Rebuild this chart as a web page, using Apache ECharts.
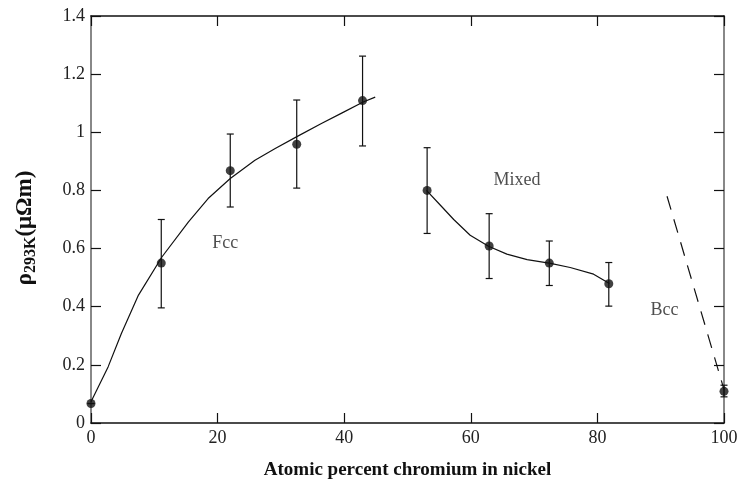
<!DOCTYPE html>
<html>
<head>
<meta charset="utf-8">
<script src="https://cdn.jsdelivr.net/npm/echarts@6/dist/echarts.min.js"></script>
<style>
  html, body { margin: 0; padding: 0; background: #fff; }
  #chart { width: 741px; height: 489px; }
</style>
</head>
<body>
<div id="chart"></div>
<script>
// measured points (atomic % Cr, resistivity)
var pointX = [0, 11.1, 22, 32.5, 42.9, 53.1, 62.9, 72.4, 81.8, 100];
var pointY = [0.067, 0.55, 0.868, 0.959, 1.109, 0.80, 0.609, 0.55, 0.479, 0.109];
var errLow = [0.067, 0.396, 0.743, 0.808, 0.953, 0.652, 0.497, 0.473, 0.402, 0.09];
var errHigh = [0.067, 0.70, 0.994, 1.111, 1.262, 0.947, 0.72, 0.626, 0.552, 0.13];

// fitted curves
var fccX = [0, 2.7, 4.8, 7.5, 11.2, 15.4, 18.5, 22, 25.9, 29.1, 32.6, 36.4, 39.6, 43, 44.9];
var fccY = [0.073, 0.193, 0.308, 0.44, 0.571, 0.692, 0.772, 0.841, 0.904, 0.944, 0.986, 1.03, 1.066, 1.104, 1.121];
var mixedX = [53, 55.2, 57.3, 59.9, 62.8, 65.7, 68.9, 72.6, 75.7, 79.4, 81.9];
var mixedY = [0.80, 0.749, 0.70, 0.646, 0.608, 0.581, 0.562, 0.549, 0.535, 0.512, 0.48];
var bccX = [91, 100];
var bccY = [0.78, 0.115];

var phaseNames = ["Fcc", "Mixed", "Bcc"];
var phaseX = [21.2, 67.3, 90.6];
var phaseY = [0.619, 0.835, 0.388];

var xTicks = [0, 20, 40, 60, 80, 100];
var yTicks = [0, 0.2, 0.4, 0.6, 0.8, 1, 1.2, 1.4];

function zip(a, b) {
  return a.map(function (v, i) { return [v, b[i]]; });
}

var serif = "'Liberation Serif', 'DejaVu Serif', serif";
var chart = echarts.init(document.getElementById("chart"));

var tickStyle = { inside: true, length: 10, lineStyle: { color: "#111", width: 1.2 } };

var option = {
  backgroundColor: "#fff",
  animation: false,
  grid: { left: 91, right: 17, top: 16, bottom: 66 },
  xAxis: [
    {
      type: "value", min: 0, max: 100, interval: 20,
      name: "Atomic percent chromium in nickel",
      nameLocation: "middle", nameGap: 38,
      nameTextStyle: { fontFamily: serif, fontWeight: "bold", fontSize: 19, color: "#111" },
      axisLine: { onZero: false, lineStyle: { color: "#111", width: 1.5 } },
      axisTick: tickStyle,
      axisLabel: {
        fontFamily: serif, fontSize: 18, color: "#222", margin: 6,
        formatter: function (v) { return xTicks.indexOf(v) >= 0 ? String(v) : ""; }
      },
      splitLine: { show: false }
    },
    {
      type: "value", min: 0, max: 100, interval: 20, position: "top",
      axisLine: { onZero: false, lineStyle: { color: "#111", width: 1.5 } },
      axisTick: tickStyle,
      axisLabel: { show: false },
      splitLine: { show: false }
    }
  ],
  yAxis: [
    {
      type: "value", min: 0, max: 1.4, interval: 0.2,
      name: "{a|ρ}{s|293K}{a|(μΩm)}",
      nameLocation: "middle", nameGap: 52, nameRotate: 90,
      nameTextStyle: {
        padding: [0, 17, 0, 0],
        rich: {
          a: { fontFamily: serif, fontWeight: "bold", fontSize: 23, color: "#111", lineHeight: 25, verticalAlign: "top" },
          s: { fontFamily: serif, fontWeight: "bold", fontSize: 16, color: "#111", lineHeight: 16, verticalAlign: "bottom", padding: [14, 0, 0, 0] }
        }
      },
      axisLine: { onZero: false, lineStyle: { color: "#888", width: 2 } },
      axisTick: tickStyle,
      axisLabel: {
        fontFamily: serif, fontSize: 18, color: "#222", margin: 6,
        formatter: function (v) {
          var t = yTicks.find(function (k) { return Math.abs(k - v) < 1e-6; });
          return t === undefined ? "" : String(Math.round(t * 10) / 10);
        }
      },
      splitLine: { show: false }
    },
    {
      type: "value", min: 0, max: 1.4, interval: 0.2, position: "right",
      axisLine: { onZero: false, lineStyle: { color: "#888", width: 2 } },
      axisTick: tickStyle,
      axisLabel: { show: false },
      splitLine: { show: false }
    }
  ],
  series: [
    {
      type: "line", data: zip(fccX, fccY), smooth: false, showSymbol: false,
      lineStyle: { color: "#111", width: 1.2 }, z: 2
    },
    {
      type: "line", data: zip(mixedX, mixedY), smooth: false, showSymbol: false,
      lineStyle: { color: "#111", width: 1.2 }, z: 2
    },
    {
      type: "line", data: zip(bccX, bccY), showSymbol: false,
      lineStyle: { color: "#111", width: 1.2, type: [14, 10] }, z: 2
    },
    {
      type: "custom",
      data: pointX.map(function (x, i) { return [x, errLow[i], errHigh[i]]; }),
      renderItem: function (params, api) {
        var lo = api.coord([api.value(0), api.value(1)]);
        var hi = api.coord([api.value(0), api.value(2)]);
        var cap = 3.5;
        var style = { stroke: "#111", lineWidth: 1.2 };
        return {
          type: "group",
          children: [
            { type: "line", shape: { x1: lo[0], y1: lo[1], x2: hi[0], y2: hi[1] }, style: style },
            { type: "line", shape: { x1: lo[0] - cap, y1: lo[1], x2: lo[0] + cap, y2: lo[1] }, style: style },
            { type: "line", shape: { x1: hi[0] - cap, y1: hi[1], x2: hi[0] + cap, y2: hi[1] }, style: style }
          ]
        };
      },
      z: 3
    },
    {
      type: "scatter", data: zip(pointX, pointY), symbol: "circle", symbolSize: 9,
      itemStyle: { color: "#111" }, z: 4
    },
    {
      type: "scatter", symbolSize: 0,
      data: phaseNames.map(function (n, i) { return { name: n, value: [phaseX[i], phaseY[i]] }; }),
      label: {
        show: true, position: "inside", formatter: "{b}",
        fontFamily: serif, fontSize: 18, color: "#222"
      },
      z: 5
    }
  ]
};

chart.setOption(option);
</script>
</body>
</html>
